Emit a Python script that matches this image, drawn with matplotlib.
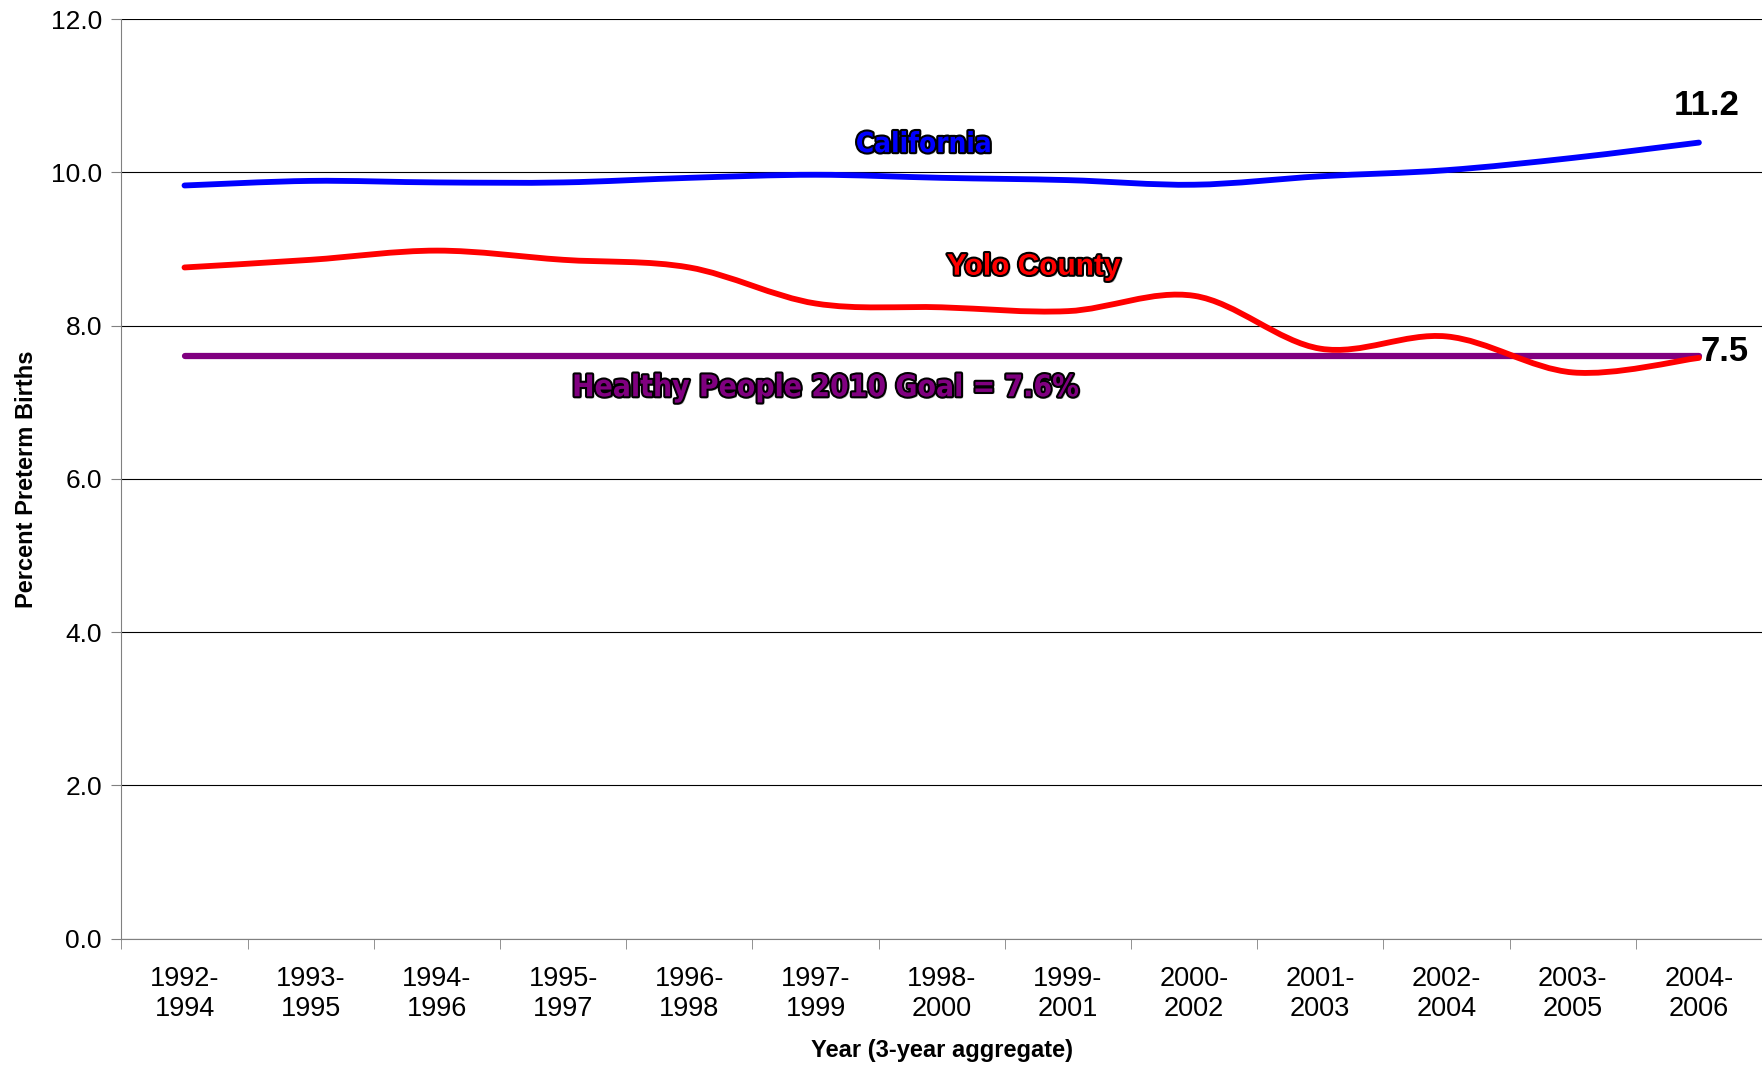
import matplotlib
matplotlib.use("Agg")
import matplotlib.pyplot as plt
import matplotlib.patheffects as pe
from matplotlib.path import Path
from matplotlib.patches import PathPatch
import numpy as np

# data
periods = ["1992-\n1994", "1993-\n1995", "1994-\n1996", "1995-\n1997", "1996-\n1998",
           "1997-\n1999", "1998-\n2000", "1999-\n2001", "2000-\n2002", "2001-\n2003",
           "2002-\n2004", "2003-\n2005", "2004-\n2006"]
california = [9.83, 9.89, 9.87, 9.87, 9.93, 9.97, 9.93, 9.90, 9.84, 9.95, 10.03, 10.19, 10.39]
yolo = [8.76, 8.86, 8.98, 8.86, 8.76, 8.29, 8.24, 8.19, 8.39, 7.70, 7.86, 7.39, 7.58]
goal = 7.6
end_labels = ["11.2", "7.5"]


def smooth_path(xs, ys):
    # Excel-style smoothed line: Catmull-Rom segments as cubic Beziers
    pts = np.column_stack([xs, ys])
    n = len(pts)
    verts = [pts[0]]
    codes = [Path.MOVETO]
    for i in range(n - 1):
        p0 = pts[i - 1] if i > 0 else pts[i]
        p1 = pts[i]
        p2 = pts[i + 1]
        p3 = pts[i + 2] if i + 2 < n else pts[i + 1]
        c1 = p1 + (p2 - p0) / 6.0
        c2 = p2 - (p3 - p1) / 6.0
        verts += [c1, c2, p2]
        codes += [Path.CURVE4] * 3
    return Path(verts, codes)


fig = plt.figure(figsize=(17.62, 10.69), dpi=100)
ax = fig.add_axes([0.0689, 0.122, 0.9311, 0.860])

x = np.arange(len(periods))

ax.plot([x[0], x[-1]], [goal, goal], color="#800080", lw=4.5, solid_capstyle="round", zorder=3)
for series, col in [(yolo, "#ff0000"), (california, "#0000ff")]:
    ax.add_patch(PathPatch(smooth_path(x, series), facecolor="none", edgecolor=col,
                           lw=4.2, capstyle="round", zorder=4))

ax.set_xlim(-0.5, len(periods) - 0.5)
ax.set_ylim(0, 12)
ax.set_yticks(np.arange(0, 12.1, 2))
ax.set_yticklabels([f"{v:.1f}" for v in np.arange(0, 12.1, 2)])
ax.yaxis.grid(True, color="black", lw=0.8)
ax.set_axisbelow(True)

ax.set_xticks(x)
ax.set_xticklabels(periods)
ax.set_xticks(np.arange(-0.5, len(periods)), minor=True)
ax.tick_params(axis="x", which="major", length=0, pad=20, labelsize=19.5)
ax.tick_params(axis="x", which="minor", length=7, color="#808080")
ax.tick_params(axis="y", length=7, color="#808080", labelsize=19, pad=7)
for s in ["top", "right"]:
    ax.spines[s].set_visible(False)
for s in ["left", "bottom"]:
    ax.spines[s].set_color("#808080")

for lab in ax.get_xticklabels() + ax.get_yticklabels():
    lab.set_fontfamily("Liberation Sans")

ax.set_ylabel("Percent Preterm Births", fontsize=17, fontweight="bold",
              fontfamily="Liberation Sans", labelpad=9)
ax.set_xlabel("Year (3-year aggregate)", fontsize=17, fontweight="bold",
              fontfamily="Liberation Sans", labelpad=12)

outline = lambda w: [pe.SimplePatchShadow(offset=(1.5, -1.5), shadow_rgbFace="#b0b0b0", alpha=0.7),
                     pe.Stroke(linewidth=w, foreground="black"), pe.Normal()]

ax.text(5.86, 10.37, "California", color="#0000ff", fontsize=20, fontweight="bold",
        fontfamily="DejaVu Sans", fontstretch="condensed", ha="center", va="center",
        path_effects=outline(3), zorder=5)
ax.text(6.73, 8.77, "Yolo County", color="#ff0000", fontsize=21.5, fontweight="bold",
        fontfamily="Liberation Sans", ha="center", va="center",
        path_effects=outline(3), zorder=5)
ax.text(5.08, 7.19, "Healthy People 2010 Goal = 7.6%", color="#800080", fontsize=21.5,
        fontweight="bold", fontfamily="DejaVu Sans", fontstretch="condensed",
        ha="center", va="center", path_effects=outline(3), zorder=5)

ax.text(12.06, 10.88, end_labels[0], fontsize=25, fontweight="bold",
        fontfamily="Liberation Sans", ha="center", va="center")
ax.text(12.2, 7.66, end_labels[1], fontsize=25, fontweight="bold",
        fontfamily="Liberation Sans", ha="center", va="center")

fig.savefig("out.png", dpi=100)
